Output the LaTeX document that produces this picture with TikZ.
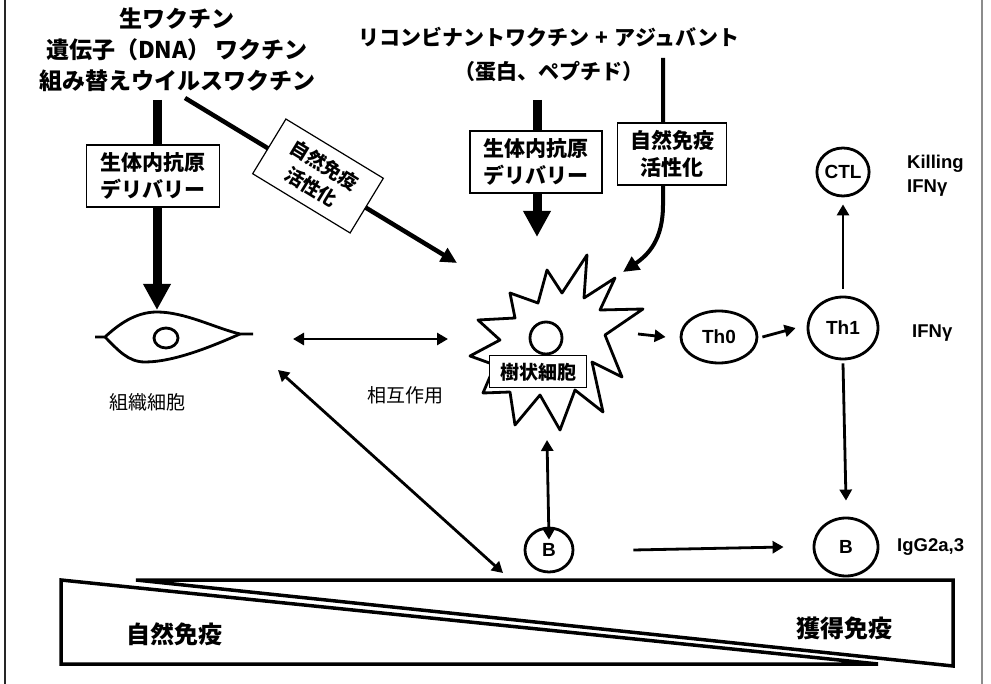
\documentclass[tikz,border=0pt]{standalone}
\usepackage{fontspec}
\setmainfont{Liberation Sans}
\newfontfamily\jp{Noto Sans CJK JP}
\usetikzlibrary{arrows.meta,shapes.geometric}

\tikzset{
  jbig/.style={font=\jp\bfseries\fontsize{23pt}{31pt}\selectfont, align=center, inner sep=0pt},
  jmid/.style={font=\jp\bfseries\fontsize{21pt}{34pt}\selectfont, align=center, inner sep=0pt},
  labelbox/.style={draw, line width=1.2pt, fill=white, align=center,
    font=\jp\bfseries\fontsize{21pt}{27pt}\selectfont, minimum width=133pt, minimum height=62pt, inner sep=0pt},
  jsmall/.style={font=\jp\fontsize{19pt}{22pt}\selectfont, inner sep=0pt},
  jfoot/.style={font=\jp\bfseries\fontsize{24pt}{28pt}\selectfont, inner sep=0pt},
  cellnode/.style={draw, ellipse, line width=2.8pt, inner sep=0pt, font=\bfseries\fontsize{19pt}{22pt}\selectfont},
  lat/.style={font=\bfseries\fontsize{18.5pt}{24pt}\selectfont, anchor=west, inner sep=0pt, align=left},
  thinarrow/.style={line width=2.8pt, -{Triangle[length=11pt,width=12pt]}},
  twoway/.style={line width=2.8pt, {Triangle[length=11pt,width=12pt]}-{Triangle[length=11pt,width=12pt]}},
  heavyarrow/.style={line width=9pt, -{Triangle[length=26pt,width=26pt]}},
  midarrow/.style={line width=4.5pt, -{Triangle[length=16pt,width=15pt]}},
  outline/.style={line width=2.8pt, line join=round},
}

\begin{document}
\begin{tikzpicture}[x=1pt,y=-1pt]
\useasboundingbox (0,0) rectangle (991,684);

% page frame
\draw[line width=2.5pt, black!85] (5,0) -- (5,684);
\draw[line width=1.5pt, black!45] (982,0) -- (982,684);

% vaccine headings
\node[jbig] (live) at (177,50) {生ワクチン\\遺伝子（DNA） ワクチン\\組み替えウイルスワクチン};
\node[jmid] (recomb) at (549,54) {リコンビナントワクチン\hspace{0.3em}+\hspace{0.3em}アジュバント\\（蛋白、ペプチド）};

% tissue cell
\coordinate (tcL) at (95,337);
\coordinate (tcR) at (253,334);
\draw[outline] (tcL) -- (105,337)
  .. controls (118,325) and (135,312) .. (157,312)
  .. controls (185,312) and (215,328) .. (240,334) -- (tcR);
\draw[outline] (105,337)
  .. controls (118,350) and (128,362) .. (145,362)
  .. controls (175,362) and (215,345) .. (240,334);
\node[draw, ellipse, line width=2.8pt, minimum width=24pt, minimum height=20pt, inner sep=0pt] (nuc) at (166,338) {};
\node[jsmall] (tclabel) at (147,402) {組織細胞};

% dendritic cell (star burst)
\draw[outline, fill=white] (587,255) -- (584,298) -- (615,278) -- (600,310) -- (643,309)
  -- (605,335) -- (622,377) -- (592,362) -- (603,412) -- (575,390) -- (560,430)
  -- (540,395) -- (515,425) -- (510,392) -- (483,393) -- (495,365) -- (470,356)
  -- (500,340) -- (478,320) -- (515,318) -- (510,293) -- (538,303) -- (547,270)
  -- (562,293) -- cycle;
\node[draw, circle, line width=2.8pt, minimum size=32pt, inner sep=0pt] (dcnuc) at (546,338) {};
\node[draw, line width=1pt, fill=white, minimum width=97pt, minimum height=32pt, inner sep=0pt,
  font=\jp\bfseries\fontsize{19pt}{22pt}\selectfont] (dclabel) at (538,372) {樹状細胞};
\coordinate (dcW) at (448,339);
\coordinate (dcIn1) at (457,263);
\coordinate (dcIn2) at (623,272);
\coordinate (dcE) at (638,334);
\coordinate (dcS) at (547,440);

% T and B cells
\node[cellnode, minimum width=76pt, minimum height=52pt] (th0) at (719,337) {Th0};
\node[cellnode, minimum width=70pt, minimum height=62pt] (th1) at (843,328) {Th1};
\node[cellnode, minimum width=52pt, minimum height=48pt] (ctl) at (843,172) {CTL};
\node[cellnode, minimum width=48pt, minimum height=44pt] (bl) at (549,550) {B};
\node[cellnode, minimum width=64pt, minimum height=58pt] (br) at (846,547) {B};

\node[lat] (kill) at (907,176) {Killing\\IFNγ};
\node[lat] (ifn) at (912,333) {IFNγ};
\node[lat] (igg) at (897,547) {IgG2a,3};

% delivery arrows with their boxes
\coordinate (liveS) at (157,100);
\draw[heavyarrow] (liveS) -- (157,310);
\node[labelbox] (box1) at (153,176) {生体内抗原\\デリバリー};

\coordinate (recS) at (537,100);
\draw[heavyarrow] (recS) -- (537,237);
\node[labelbox, minimum width=132pt] (box2) at (536,162) {生体内抗原\\デリバリー};

% innate activation, diagonal
\coordinate (liveD) at (185,98);
\draw[midarrow] (liveD) -- (dcIn1);
\node[labelbox, rotate=-31.3, minimum width=114pt, minimum height=64pt,
  font=\jp\bfseries\fontsize{19pt}{25pt}\selectfont] (box3) at (318,176) {自然免疫\\活性化};

% innate activation, curved
\coordinate (recD) at (663,58);
\draw[line width=4pt, -{Triangle[length=16pt,width=15pt]}] (recD) -- (663,205)
  .. controls (663,240) and (648,255) .. (dcIn2);
\node[labelbox, minimum width=109pt] (box4) at (672,154) {自然免疫\\活性化};

% interactions
\draw[twoway] (293,339) -- (dcW);
\node[jsmall] (inter) at (405,395) {相互作用};
\draw[twoway] (278,370) -- ([shift={(-46pt,-23pt)}]bl.center);
\draw[twoway] (dcS) -- ([yshift=-13pt]bl.north);

\draw[thinarrow] (dcE) -- ([xshift=-14pt]th0.west);
\draw[thinarrow] ([xshift=4pt]th0.east) -- ([xshift=-11pt]th1.west);
\draw[thinarrow] ([yshift=7pt]th1.north) -- ([yshift=-7pt]ctl.south);
\draw[thinarrow] ([yshift=-3pt]th1.south) -- ([yshift=16pt]br.north);
\draw[thinarrow] ([xshift=59pt]bl.east) -- ([xshift=-29pt]br.west);

% innate vs acquired wedges
\draw[line width=3.5pt, line join=miter] (61,580) -- (61,664) -- (878,664) -- cycle;
\draw[line width=3.5pt, line join=miter] (136,580) -- (953,580) -- (953,666) -- cycle;
\node[jfoot] (innate) at (174,634) {自然免疫};
\node[jfoot] (acquired) at (844,628) {獲得免疫};
\end{tikzpicture}
\end{document}
